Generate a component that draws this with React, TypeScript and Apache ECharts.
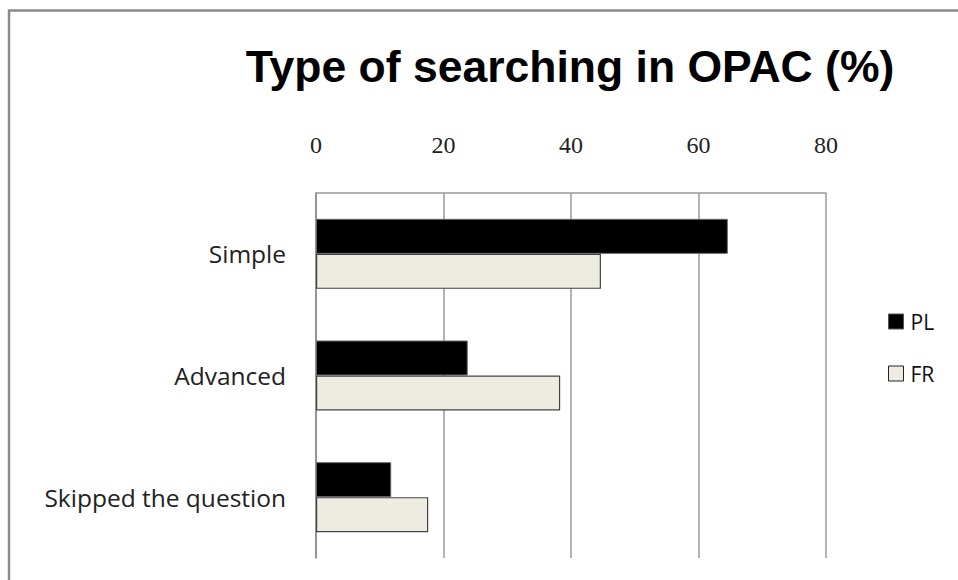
import React, { useEffect, useRef } from "react";
import * as echarts from "echarts";

const titleText = "Type of searching in OPAC (%)";
const categories = ["Simple", "Advanced", "Skipped the question"];
const seriesNames = ["PL", "FR"];
const plValues = [64.6, 23.8, 11.8];
const frValues = [44.7, 38.3, 17.6];
const axisMin = 0;
const axisMax = 80;
const axisStep = 20;

export default function App() {
  const ref = useRef<HTMLDivElement>(null);
  useEffect(() => {
    if (!ref.current) return;
    const chart = echarts.init(ref.current, undefined, { renderer: "svg" });
    const labelFont = "'Open Sans', Lato, sans-serif";
    chart.setOption({
      animation: false,
      backgroundColor: "#ffffff",
      graphic: [
        {
          type: "rect",
          shape: { x: 9, y: 10.5, width: 1200, height: 1200 },
          style: { fill: "none", stroke: "#8a8a8a", lineWidth: 2.5 },
          silent: true,
        },
        {
          type: "text",
          x: 570,
          y: 66,
          style: {
            text: titleText,
            fontFamily: "'Liberation Sans', Arial, sans-serif",
            fontWeight: "bold",
            fontSize: 44.5,
            fill: "#000000",
            align: "center",
            verticalAlign: "middle",
          },
        },
      ],
      grid: { left: 316, top: 193, right: 132, bottom: 22, containLabel: false },
      legend: {
        orient: "vertical",
        left: 883,
        top: 306,
        itemWidth: 15,
        itemHeight: 15,
        itemGap: 31,
        icon: "rect",
        textStyle: { fontFamily: labelFont, fontSize: 21, color: "#111111", padding: [0, 0, 0, 2] },
        data: [
          { name: seriesNames[0], itemStyle: { color: "#000000", borderColor: "#555555", borderWidth: 1 } },
          { name: seriesNames[1], itemStyle: { color: "#EEECE1", borderColor: "#222222", borderWidth: 1 } },
        ],
      },
      xAxis: {
        type: "value",
        position: "top",
        min: axisMin,
        max: axisMax,
        interval: axisStep,
        axisLine: { show: true, lineStyle: { color: "#9a9a9a", width: 1.5 } },
        axisTick: { show: false },
        splitLine: { show: true, lineStyle: { color: "#9a9a9a", width: 1.5 } },
        axisLabel: {
          margin: 36,
          fontFamily: "'Liberation Serif', serif",
          fontSize: 24,
          color: "#222222",
        },
      },
      yAxis: {
        type: "category",
        inverse: true,
        data: categories,
        axisLine: { show: true, lineStyle: { color: "#8a8a8a", width: 1.5 } },
        axisTick: { show: false },
        splitLine: { show: false },
        axisLabel: {
          margin: 30,
          fontFamily: labelFont,
          fontSize: 24.5,
          color: "#222222",
        },
      },
      series: [
        {
          name: seriesNames[0],
          type: "bar",
          data: plValues,
          barWidth: 35,
          barGap: "0%",
          itemStyle: { color: "#000000", borderColor: "#666666", borderWidth: 1 },
        },
        {
          name: seriesNames[1],
          type: "bar",
          data: frValues,
          barWidth: 35,
          barGap: "0%",
          itemStyle: { color: "#EEECE1", borderColor: "#444444", borderWidth: 1.2 },
        },
      ],
    });
    return () => chart.dispose();
  }, []);
  return (
    <div
      ref={ref}
      style={{ position: "fixed", left: 0, top: 0, width: 958, height: 580 }}
    />
  );
}
